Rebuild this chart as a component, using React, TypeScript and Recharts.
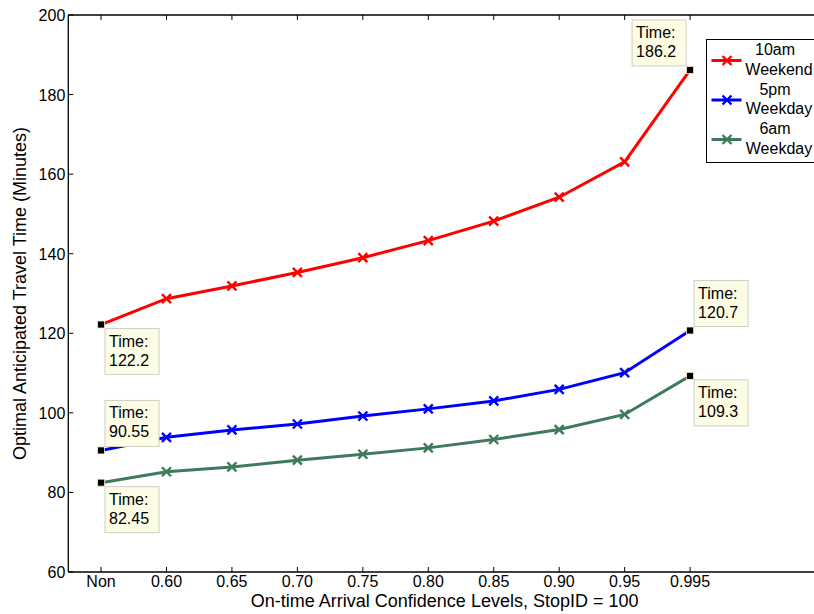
import React from 'react';
import { LineChart, Line, XAxis, YAxis, Legend } from 'recharts';

const categories = ['Non', '0.60', '0.65', '0.70', '0.75', '0.80', '0.85', '0.90', '0.95', '0.995'];
const weekend10am = [122.2, 128.7, 131.9, 135.3, 139.0, 143.3, 148.2, 154.2, 163.1, 186.2];
const weekday5pm = [90.55, 93.85, 95.7, 97.2, 99.2, 101.0, 103.0, 105.9, 110.1, 120.7];
const weekday6am = [82.45, 85.2, 86.4, 88.1, 89.6, 91.2, 93.3, 95.8, 99.6, 109.3];
const yTicks = [60, 80, 100, 120, 140, 160, 180, 200];
const xTicks = categories.map((_, i) => i);

const seriesDefs = [
  { key: 's1', top: '10am', bottom: 'Weekend', color: '#ff0000', values: weekend10am },
  { key: 's2', top: '5pm', bottom: 'Weekday', color: '#0000ff', values: weekday5pm },
  { key: 's3', top: '6am', bottom: 'Weekday', color: '#3f7a5c', values: weekday6am },
];

// datatip placement per series: [first point, last point] -> (horizontal side, vertical side)
const tipPlacement: Record<string, { first: [number, number]; last: [number, number] }> = {
  s1: { first: [1, 1], last: [-1, -1] },
  s2: { first: [1, -1], last: [1, -1] },
  s3: { first: [1, 1], last: [1, 1] },
};

const data = categories.map((c, i) => ({
  idx: i,
  name: c,
  s1: weekend10am[i],
  s2: weekday5pm[i],
  s3: weekday6am[i],
}));

const FONT = '"Liberation Sans", Arial, Helvetica, sans-serif';
const FS = 16;
const LABEL_FS = 18;

const XMark = (props: any) => {
  const { cx, cy, index, stroke } = props;
  if (cx == null || cy == null) return <g />;
  if (index === 0 || index === categories.length - 1) return <g key={index} />;
  const h = 4.5;
  return (
    <g key={index}>
      <line x1={cx - h} y1={cy - h} x2={cx + h} y2={cy + h} stroke={stroke} strokeWidth={2.4} />
      <line x1={cx - h} y1={cy + h} x2={cx + h} y2={cy - h} stroke={stroke} strokeWidth={2.4} />
    </g>
  );
};

const makeTip = (seriesKey: string) => (props: any) => {
  const { cx, cy, index, value } = props;
  const last = categories.length - 1;
  if (cx == null || cy == null || (index !== 0 && index !== last)) return <g key={index} />;
  const place = index === 0 ? tipPlacement[seriesKey].first : tipPlacement[seriesKey].last;
  const w = 54;
  const h = 46;
  const bx = place[0] > 0 ? cx + 4 : cx - 4 - w;
  const by = place[1] > 0 ? cy + 4 : cy - 4 - h;
  const v = Array.isArray(value) ? value[1] : value;
  return (
    <g key={index}>
      <rect x={bx} y={by} width={w} height={h} fill="#fdfde6" stroke="#cfcfc4" strokeWidth={1} />
      <text x={bx + 4} y={by + 18} fontSize={FS} fontFamily={FONT} fill="#000">Time:</text>
      <text x={bx + 4} y={by + 37} fontSize={FS} fontFamily={FONT} fill="#000">{String(v)}</text>
      <rect x={cx - 3.5} y={cy - 3.5} width={7} height={7} fill="#000" stroke="#f3eccc" strokeWidth={0.8} />
    </g>
  );
};

const BottomTick = (props: any) => {
  const { x, y, payload } = props;
  return (
    <g>
      <line x1={x} y1={y} x2={x} y2={y - 5} stroke="#000" strokeWidth={1} />
      <text x={x} y={y + 14.5} textAnchor="middle" fontSize={FS} fontFamily={FONT} fill="#000">
        {categories[payload.value]}
      </text>
    </g>
  );
};

const TopTick = (props: any) => {
  const { x, y } = props;
  return (
    <g>
      <line x1={x} y1={y} x2={x} y2={y + 5} stroke="#000" strokeWidth={1} />
    </g>
  );
};

const LeftTick = (props: any) => {
  const { x, y, payload } = props;
  return (
    <g>
      <line x1={x} y1={y} x2={x + 5} y2={y} stroke="#000" strokeWidth={1} />
      <text x={x - 3} y={y + 6} textAnchor="end" fontSize={FS} fontFamily={FONT} fill="#000">
        {payload.value}
      </text>
    </g>
  );
};

const LegendBox = () => (
  <svg width={120} height={126} style={{ display: 'block' }}>
    <rect x={0.5} y={0.5} width={130} height={123} fill="#fff" stroke="#000" strokeWidth={1} />
    {seriesDefs.map((s, i) => {
      const ly = 21.5 + i * 39.5;
      return (
        <g key={s.key}>
          <line x1={5.5} y1={ly} x2={35.5} y2={ly} stroke={s.color} strokeWidth={3} />
          <line x1={16.5} y1={ly - 4.5} x2={25.5} y2={ly + 4.5} stroke={s.color} strokeWidth={2.4} />
          <line x1={16.5} y1={ly + 4.5} x2={25.5} y2={ly - 4.5} stroke={s.color} strokeWidth={2.4} />
          <text x={69} y={ly - 5.5} textAnchor="middle" fontSize={FS} fontFamily={FONT} fill="#000">{s.top}</text>
          <text x={73} y={ly + 14} textAnchor="middle" fontSize={FS} fontFamily={FONT} fill="#000">{s.bottom}</text>
        </g>
      );
    })}
  </svg>
);

export default function App() {
  return (
    <div style={{ position: 'fixed', left: 0, top: 0, width: 814, height: 614, overflow: 'hidden', background: '#fff' }}>
      <LineChart
        width={900}
        height={614}
        data={data}
        margin={{ top: 14, right: 79, bottom: 41, left: 67.3 }}
      >
        <XAxis
          dataKey="idx"
          type="number"
          domain={[-0.5, 11]}
          ticks={xTicks}
          height={1}
          tickSize={0}
          tickMargin={0}
          tickLine={false}
          tick={<BottomTick />}
          axisLine={{ stroke: '#000', strokeWidth: 1.3 }}
          interval={0}
          allowDataOverflow
          label={(lp: any) => {
            const vb = lp.viewBox || {};
            return (
              <text x={vb.x + vb.width / 2} y={606.5} textAnchor="middle" fontSize={LABEL_FS} fontFamily={FONT} fill="#000">
                On-time Arrival Confidence Levels, StopID = 100
              </text>
            );
          }}
        />
        <XAxis
          xAxisId="top"
          orientation="top"
          dataKey="idx"
          type="number"
          domain={[-0.5, 11]}
          ticks={xTicks}
          height={1}
          tickSize={0}
          tickMargin={0}
          tickLine={false}
          tick={<TopTick />}
          axisLine={{ stroke: '#000', strokeWidth: 1.3 }}
          interval={0}
          allowDataOverflow
        />
        <YAxis
          domain={[60, 200]}
          ticks={yTicks}
          width={1}
          tickSize={0}
          tickMargin={0}
          tickLine={false}
          tick={<LeftTick />}
          axisLine={{ stroke: '#000', strokeWidth: 1.3 }}
          interval={0}
          label={(lp: any) => {
            const vb = lp.viewBox || {};
            const cy = vb.y + vb.height / 2;
            return (
              <text
                x={26}
                y={cy}
                transform={`rotate(-90 26 ${cy})`}
                textAnchor="middle"
                fontSize={LABEL_FS}
                fontFamily={FONT}
                fill="#000"
              >
                Optimal Anticipated Travel Time (Minutes)
              </text>
            );
          }}
        />
        <Legend
          verticalAlign="middle"
          layout="horizontal"
          content={() => <LegendBox />}
          wrapperStyle={{ position: 'absolute', left: 706, top: 38.5, width: 120, height: 126 }}
        />
        {seriesDefs.map((s) => (
          <Line
            key={s.key}
            dataKey={s.key}
            name={`${s.top} ${s.bottom}`}
            stroke={s.color}
            strokeWidth={3}
            type="linear"
            dot={<XMark />}
            activeDot={false}
            isAnimationActive={false}
          />
        ))}
        {seriesDefs.map((s) => (
          <Line
            key={`tip-${s.key}`}
            dataKey={s.key}
            stroke="none"
            legendType="none"
            type="linear"
            dot={makeTip(s.key)}
            activeDot={false}
            isAnimationActive={false}
          />
        ))}
      </LineChart>
    </div>
  );
}
